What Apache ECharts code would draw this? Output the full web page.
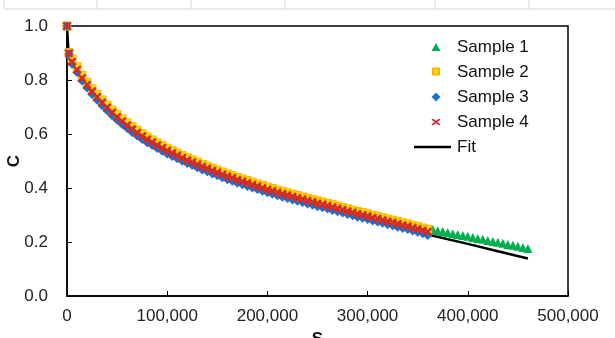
<!DOCTYPE html>
<html>
<head>
<meta charset="utf-8">
<script src="https://cdn.jsdelivr.net/npm/echarts@6/dist/echarts.min.js"></script>
<style>
  html, body { margin: 0; padding: 0; background: #fff; }
  #chart { width: 615px; height: 338px; }
</style>
</head>
<body>
<div id="chart"></div>
<script>
// S values shared by all samples (sample 1 runs further than the others)
const sValues = [0, 2000, 5000, 10000, 15000, 20000, 25000, 30000, 35000, 40000,
  45000, 50000, 55000, 60000, 65000, 70000, 75000, 80000, 85000, 90000,
  95000, 100000, 105000, 110000, 115000, 120000, 125000, 130000, 135000, 140000,
  145000, 150000, 155000, 160000, 165000, 170000, 175000, 180000, 185000, 190000,
  195000, 200000, 205000, 210000, 215000, 220000, 225000, 230000, 235000, 240000,
  245000, 250000, 255000, 260000, 265000, 270000, 275000, 280000, 285000, 290000,
  295000, 300000, 305000, 310000, 315000, 320000, 325000, 330000, 335000, 340000,
  345000, 350000, 355000, 360000, 365000, 370000, 375000, 380000, 385000, 390000,
  395000, 400000, 405000, 410000, 415000, 420000, 425000, 430000, 435000, 440000,
  445000, 450000, 455000, 460000];

const sample1 = [1.000, 0.901, 0.874, 0.844, 0.812, 0.786, 0.762, 0.741, 0.721, 0.702,
  0.684, 0.667, 0.651, 0.636, 0.622, 0.609, 0.596, 0.584, 0.573, 0.562,
  0.552, 0.542, 0.533, 0.524, 0.515, 0.507, 0.499, 0.491, 0.483, 0.476,
  0.468, 0.461, 0.454, 0.447, 0.441, 0.434, 0.428, 0.422, 0.416, 0.410,
  0.404, 0.402, 0.397, 0.391, 0.386, 0.381, 0.376, 0.371, 0.366, 0.361,
  0.356, 0.351, 0.347, 0.342, 0.337, 0.332, 0.327, 0.322, 0.317, 0.312,
  0.308, 0.303, 0.298, 0.294, 0.289, 0.284, 0.280, 0.275, 0.270, 0.266,
  0.261, 0.256, 0.251, 0.249, 0.246, 0.242, 0.239, 0.235, 0.231, 0.228,
  0.224, 0.221, 0.217, 0.213, 0.210, 0.206, 0.202, 0.199, 0.195, 0.191,
  0.188, 0.184, 0.180, 0.176];

const sample2 = [1.000, 0.902, 0.879, 0.849, 0.817, 0.791, 0.767, 0.746, 0.726, 0.707,
  0.689, 0.672, 0.656, 0.641, 0.627, 0.614, 0.601, 0.589, 0.578, 0.567,
  0.557, 0.547, 0.538, 0.529, 0.520, 0.512, 0.504, 0.496, 0.488, 0.481,
  0.473, 0.466, 0.459, 0.452, 0.446, 0.439, 0.433, 0.427, 0.421, 0.415,
  0.409, 0.403, 0.398, 0.392, 0.387, 0.382, 0.377, 0.372, 0.367, 0.362,
  0.357, 0.352, 0.348, 0.343, 0.338, 0.333, 0.328, 0.323, 0.318, 0.313,
  0.309, 0.304, 0.299, 0.295, 0.290, 0.285, 0.281, 0.276, 0.271, 0.267,
  0.262, 0.257, 0.252, 0.247];

const sample3 = [1.000, 0.897, 0.858, 0.828, 0.796, 0.770, 0.746, 0.725, 0.705, 0.686,
  0.668, 0.651, 0.635, 0.620, 0.606, 0.593, 0.580, 0.568, 0.557, 0.546,
  0.536, 0.526, 0.517, 0.508, 0.499, 0.491, 0.483, 0.475, 0.467, 0.460,
  0.452, 0.445, 0.438, 0.431, 0.425, 0.418, 0.412, 0.406, 0.400, 0.394,
  0.388, 0.382, 0.377, 0.371, 0.366, 0.361, 0.356, 0.351, 0.346, 0.341,
  0.336, 0.331, 0.327, 0.322, 0.317, 0.312, 0.307, 0.302, 0.297, 0.292,
  0.288, 0.283, 0.278, 0.274, 0.269, 0.264, 0.260, 0.255, 0.250, 0.246,
  0.241, 0.236, 0.231, 0.224];

const sample4 = [1.000, 0.899, 0.868, 0.838, 0.807, 0.782, 0.758, 0.737, 0.717, 0.698,
  0.680, 0.663, 0.647, 0.632, 0.618, 0.605, 0.592, 0.580, 0.569, 0.558,
  0.548, 0.538, 0.529, 0.520, 0.511, 0.503, 0.495, 0.487, 0.479, 0.472,
  0.464, 0.457, 0.450, 0.443, 0.437, 0.430, 0.424, 0.418, 0.412, 0.406,
  0.400, 0.394, 0.389, 0.383, 0.378, 0.373, 0.368, 0.363, 0.358, 0.353,
  0.348, 0.343, 0.339, 0.334, 0.329, 0.324, 0.319, 0.314, 0.309, 0.304,
  0.300, 0.295, 0.290, 0.286, 0.281, 0.276, 0.272, 0.267, 0.262, 0.258,
  0.253, 0.248, 0.243, 0.238];

// fitted curve
const fitS = [0, 1500, 5000, 10000, 20000, 30000, 40000, 50000, 65000, 80000,
  100000, 125000, 150000, 175000, 200000, 250000, 300000, 360000, 400000, 430000, 460000];
const fitC = [1.000, 0.902, 0.872, 0.840, 0.782, 0.737, 0.698, 0.663, 0.618, 0.580,
  0.538, 0.495, 0.457, 0.424, 0.394, 0.343, 0.292, 0.228, 0.193, 0.166, 0.139];

const yTicks = [0, 0.2, 0.4, 0.6, 0.8, 1.0];
const xTicks = [0, 100000, 200000, 300000, 400000, 500000];

const pairs = (vals) => vals.map((c, i) => [sValues[i], c]);
const crossPath = 'path://M2,0L5,3L8,0L10,2L7,5L10,8L8,10L5,7L2,10L0,8L3,5L0,2Z';
const font = 'Liberation Sans';

// legend icons: the leading moves pin the 38x9 box so the marker keeps its shape
const box = 'path://M0,0M38,9';
const legendIcons = {
  'Sample 1': box + 'M22,0.5L26.5,8.5L17.5,8.5Z',
  'Sample 2': box + 'M19,1H25V7H19Z',
  'Sample 3': box + 'M22,0L26.5,4.5L22,9L17.5,4.5Z',
  'Sample 4': box + 'M18.5,1L22,3.3L25.5,1L26.5,2.2L23.3,4.5L26.5,6.8L25.5,8L22,5.7L18.5,8L17.5,6.8L20.7,4.5L17.5,2.2Z',
  'Fit': box + 'M0,3.2H37V5.8H0Z'
};

const chart = echarts.init(document.getElementById('chart'));

// faint spreadsheet cell borders along the top edge
const cellLines = [4, 97, 191, 285, 435, 529].map(x => ({
  type: 'line', shape: { x1: x, y1: 0, x2: x, y2: 9 },
  style: { stroke: '#d6d6d6', lineWidth: 1 }, silent: true
}));
cellLines.push({
  type: 'line', shape: { x1: 4, y1: 9, x2: 615, y2: 9 },
  style: { stroke: '#d6d6d6', lineWidth: 1 }, silent: true
});

const option = {
  animation: false,
  backgroundColor: '#fff',
  textStyle: { fontFamily: font },
  graphic: cellLines,
  grid: {
    left: 67, right: 47, top: 26, bottom: 42,
    outerBoundsMode: 'none', containLabel: false,
    show: true, borderColor: '#000', borderWidth: 1.5, backgroundColor: 'transparent'
  },
  legend: {
    orient: 'vertical',
    left: 408, top: 33,
    itemWidth: 38, itemHeight: 9, itemGap: 7,
    textStyle: { fontFamily: font, fontSize: 17, color: '#111', lineHeight: 18 },
    data: ['Sample 1', 'Sample 2', 'Sample 3', 'Sample 4', 'Fit'].map(n => ({ name: n, icon: legendIcons[n] }))
  },
  xAxis: {
    type: 'value',
    min: xTicks[0], max: xTicks[xTicks.length - 1], interval: 100000,
    name: 'S', nameLocation: 'middle', nameGap: 35, nameMoveOverlap: false,
    nameTextStyle: { fontFamily: font, fontSize: 17, fontWeight: 'bold', color: '#111', verticalAlign: 'top' },
    axisLine: { show: true, lineStyle: { color: '#000', width: 1.5 } },
    axisTick: { show: true, inside: true, length: 5, lineStyle: { color: '#000', width: 1 } },
    axisLabel: {
      fontFamily: font, fontSize: 17, color: '#222', margin: 12,
      formatter: (v) => v.toLocaleString('en-US')
    },
    splitLine: { show: false }
  },
  yAxis: {
    type: 'value',
    min: yTicks[0], max: yTicks[yTicks.length - 1], interval: 0.2,
    name: 'C', nameLocation: 'middle', nameGap: 44, nameRotate: 90, nameMoveOverlap: false,
    nameTextStyle: { fontFamily: font, fontSize: 17, fontWeight: 'bold', color: '#111' },
    axisLine: { show: true, lineStyle: { color: '#000', width: 1.5 } },
    axisTick: { show: true, inside: true, length: 5, lineStyle: { color: '#000', width: 1 } },
    axisLabel: {
      fontFamily: font, fontSize: 17, color: '#222', margin: 19,
      formatter: (v) => v.toFixed(1)
    },
    splitLine: { show: false }
  },
  series: [
    {
      name: 'Fit', type: 'line', symbol: 'none', z: 1,
      lineStyle: { color: '#000', width: 2.5 },
      itemStyle: { color: '#000' },
      data: fitS.map((s, i) => [s, fitC[i]])
    },
    {
      name: 'Sample 1', type: 'scatter', symbol: 'triangle', symbolSize: 9, z: 2,
      itemStyle: { color: '#00B050', opacity: 1 },
      data: pairs(sample1)
    },
    {
      name: 'Sample 2', type: 'scatter', symbol: 'rect', symbolSize: 8, z: 3,
      itemStyle: { color: '#FFE000', borderColor: '#FFB300', borderWidth: 1, opacity: 1 },
      data: pairs(sample2)
    },
    {
      name: 'Sample 3', type: 'scatter', symbol: 'diamond', symbolSize: 9, z: 4,
      itemStyle: { color: '#1874CD', opacity: 1 },
      data: pairs(sample3)
    },
    {
      name: 'Sample 4', type: 'scatter', symbol: crossPath, symbolSize: 9, z: 5,
      itemStyle: { color: '#D42A2A', opacity: 1 },
      data: pairs(sample4)
    }
  ]
};

chart.setOption(option);
</script>
</body>
</html>
